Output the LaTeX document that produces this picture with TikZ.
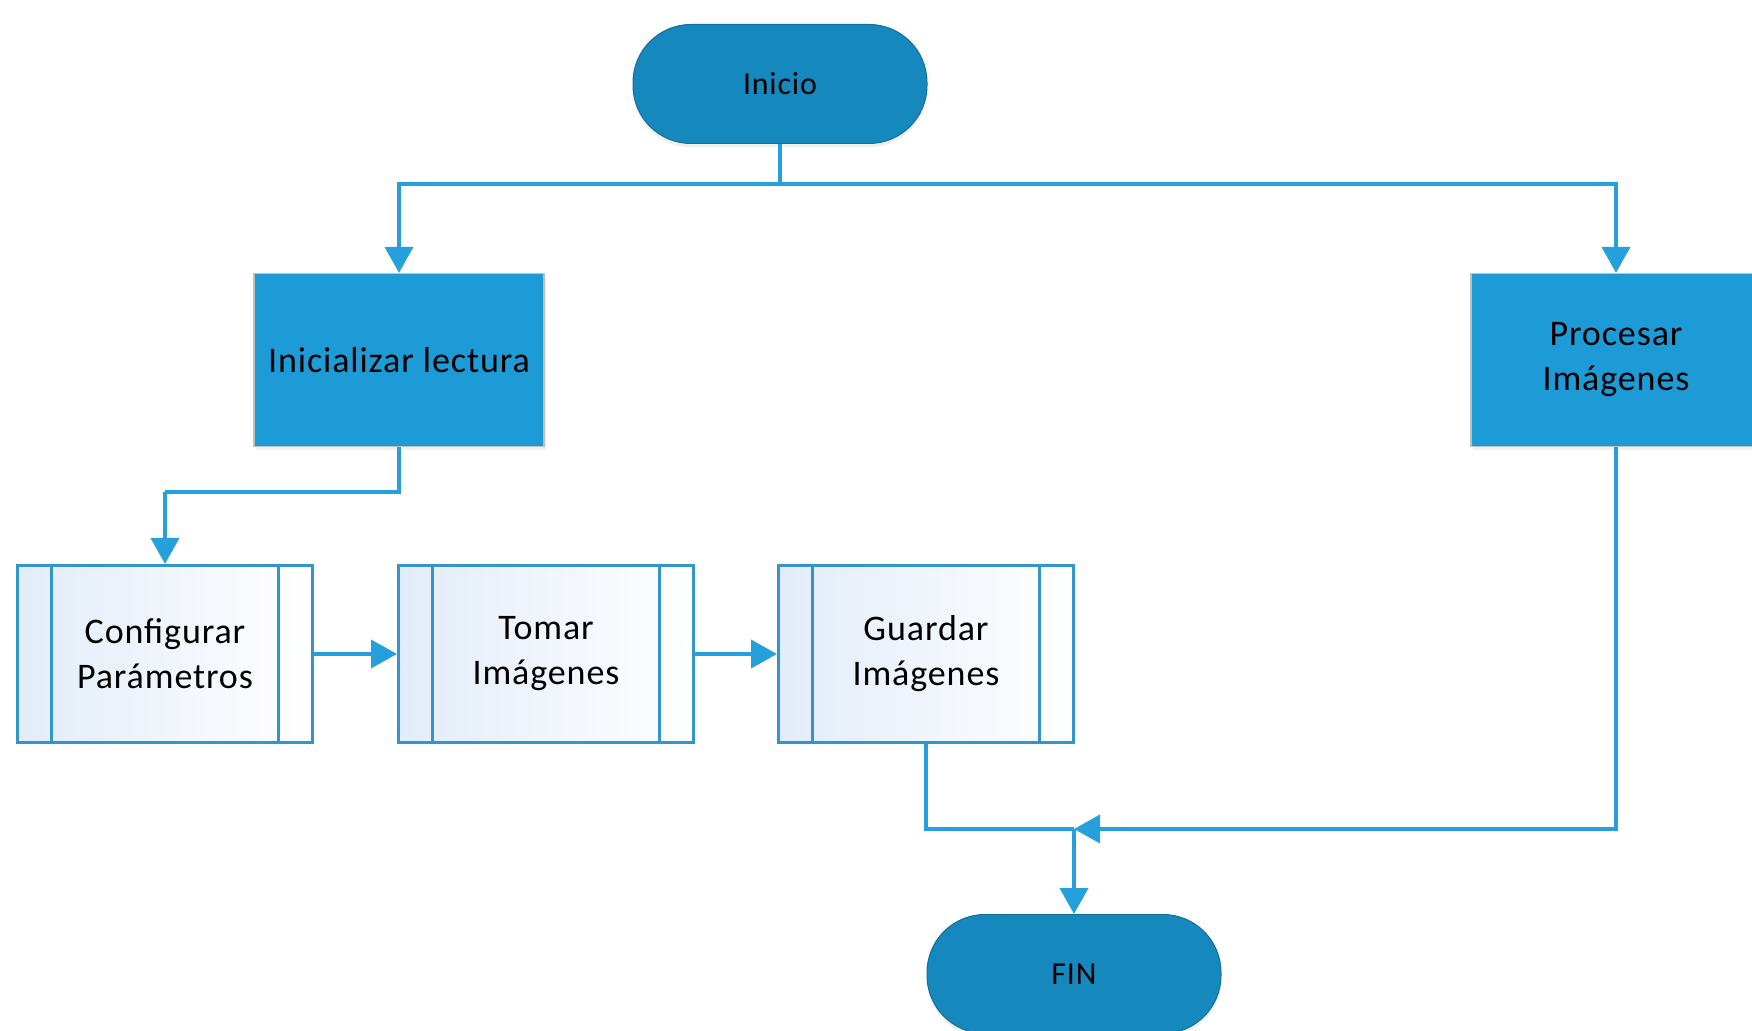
\documentclass[tikz,border=0pt]{standalone}
\usepackage{fontspec}
\setmainfont[LetterSpace=2.5]{Carlito}
\usetikzlibrary{arrows.meta,shadows}
\definecolor{terminal}{RGB}{21,137,190}
\definecolor{proceso}{RGB}{29,155,215}
\definecolor{linea}{RGB}{38,160,220}
\definecolor{borde}{RGB}{50,150,205}
\definecolor{tenue}{RGB}{226,236,248}

\begin{document}
\begin{tikzpicture}[x=0.5pt, y=-0.5pt,
  flecha/.style={draw=linea, line width=2pt, -{Triangle[length=13pt,width=14pt]}},
  linea/.style={draw=linea, line width=2pt},
  inifin/.style={rectangle, rounded corners=29pt, fill=terminal, draw=terminal!80!black,
    line width=0.5pt, minimum width=147pt, minimum height=59.5pt, font=\fontsize{16}{18}\selectfont,
    drop shadow={opacity=0.12, shadow xshift=0pt, shadow yshift=-2pt}},
  proc/.style={rectangle, fill=proceso, draw=black!25, line width=0.6pt,
    minimum width=145pt, minimum height=86.5pt, align=center,
    font=\fontsize{18}{22.5}\selectfont,
    drop shadow={opacity=0.12, shadow xshift=1pt, shadow yshift=-2pt}},
  subproc/.style={rectangle, draw=borde, line width=1.5pt, left color=tenue, right color=white,
    minimum width=147.5pt, minimum height=88.5pt, align=center,
    font=\fontsize{18}{22.5}\selectfont,
    path picture={
      \draw[borde, line width=1.5pt] ([xshift=17pt]path picture bounding box.north west)
        -- ([xshift=17pt]path picture bounding box.south west);
      \draw[borde, line width=1.5pt] ([xshift=-17pt]path picture bounding box.north east)
        -- ([xshift=-17pt]path picture bounding box.south east);}}]
  \useasboundingbox (0,0) rectangle (1752,1031);
  % Inicio y fin
  \node[inifin] (inicio) at (780,84) {Inicio};
  \node[inifin] (fin) at (1074,974) {FIN};
  % Procesos
  \node[proc] (inicializar) at (399,360) {Inicializar lectura};
  \node[proc] (procesar) at (1616,360) {Procesar\\Imágenes};
  % Subprocesos
  \node[subproc] (configurar) at (165,654) {Configurar\\Parámetros};
  \node[subproc] (tomar) at (546,654) {Tomar\\Imágenes};
  \node[subproc] (guardar) at (926,654) {Guardar\\Imágenes};
  % Puntos de cruce
  \coordinate (rama) at (780,184);
  \coordinate (codo) at (165,492);
  \coordinate (une) at (1074,829);
  % Conexiones
  \draw[linea] (inicio.south) -- (rama);
  \draw[flecha] (rama) -| (inicializar.north);
  \draw[flecha] (rama) -| (procesar.north);
  \draw[linea] (inicializar.south) |- (codo);
  \draw[flecha] (codo) -- (configurar.north);
  \draw[flecha] (configurar) -- (tomar);
  \draw[flecha] (tomar) -- (guardar);
  \draw[linea] (guardar.south) |- (une);
  \draw[flecha] (procesar.south) |- (une);
  \draw[flecha] (une) -- (fin.north);
\end{tikzpicture}
\end{document}
